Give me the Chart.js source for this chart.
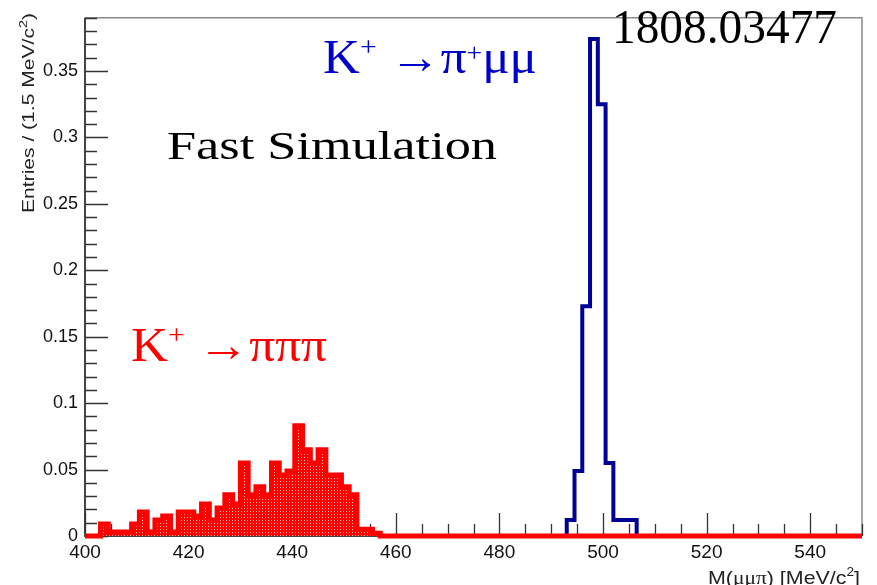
<!DOCTYPE html>
<html>
<head>
<meta charset="utf-8">
<script src="https://cdn.jsdelivr.net/npm/chart.js@4.4.0/dist/chart.umd.min.js"></script>
<style>
  html, body { margin: 0; padding: 0; background: #fff; }
</style>
</head>
<body>
<canvas id="mass" width="877" height="585"></canvas>
<script>
// binning, MeV/c^2
const binStart = 400;
const binWidth = 1.5;
const xMin = 400, xMax = 550;
const yMax = 0.39;

// K+ -> pi pi pi, one value per bin starting at 400
const kpipipi = [0, 0, 0.009, 0.003, 0.003, 0.003, 0.009, 0.018, 0.003, 0.012,
  0.015, 0.003, 0.018, 0.018, 0.015, 0.024, 0.012, 0.021, 0.031, 0.024,
  0.055, 0.031, 0.037, 0.031, 0.055, 0.046, 0.049, 0.083, 0.065, 0.055,
  0.065, 0.046, 0.046, 0.037, 0.031, 0.005, 0.005, 0.002, 0];

// K+ -> pi+ mu mu, bins starting at 491.5
const kpimumuStart = 491.5;
const kpimumu = [0, 0.012, 0.049, 0.173, 0.374, 0.325, 0.055, 0.012, 0.012, 0.012, 0];

const xTicks = [400, 420, 440, 460, 480, 500, 520, 540];
const yTicks = [0, 0.05, 0.1, 0.15, 0.2, 0.25, 0.3, 0.35];

// point at each lower bin edge carries that bin's content (stepped 'before')
function toSteps(start, values, endX) {
    const pts = values.map((v, i) => ({ x: start + i * binWidth, y: v }));
    pts.push({ x: endX !== undefined ? endX : start + values.length * binWidth, y: 0 });
    return pts;
}

const canvas = document.getElementById('mass');
const ctx = canvas.getContext('2d');

// ROOT style dotted fill
function dotPattern() {
    const c = document.createElement('canvas');
    c.width = 3; c.height = 3;
    const g = c.getContext('2d');
    g.fillStyle = '#ff0000';
    g.fillRect(0, 0, 3, 3);
    g.fillStyle = '#ffc4c4';
    g.fillRect(1, 1, 1, 1);
    return ctx.createPattern(c, 'repeat');
}

// draws a row of text pieces, squeezed/stretched to a given width
function drawGroup(g, parts, x, y, width, family, color) {
    let total = 0;
    parts.forEach(p => {
        g.font = p.size + 'px "' + (p.family || family) + '"';
        p.w = g.measureText(p.t).width;
        total += p.w;
    });
    g.save();
    g.translate(x, y);
    g.scale(width / total, 1);
    g.fillStyle = color;
    g.textBaseline = 'alphabetic';
    g.textAlign = 'left';
    let cx = 0;
    parts.forEach(p => {
        g.font = p.size + 'px "' + (p.family || family) + '"';
        g.fillText(p.t, cx, p.dy || 0);
        cx += p.w;
    });
    g.restore();
}

const rootFrame = {
    id: 'rootFrame',
    beforeDatasetsDraw(chart) {
        const { ctx: g, chartArea: a, scales: { x, y } } = chart;
        g.save();
        // frame
        g.strokeStyle = '#8a8a8a';
        g.lineWidth = 1.5;
        g.beginPath();
        g.moveTo(a.left, a.top); g.lineTo(a.right, a.top); g.lineTo(a.right, a.bottom);
        g.stroke();
        g.strokeStyle = '#444';
        g.lineWidth = 2;
        g.beginPath();
        g.moveTo(a.left, a.top); g.lineTo(a.left, a.bottom); g.lineTo(a.right, a.bottom);
        g.stroke();
        // ticks
        g.strokeStyle = '#333';
        g.lineWidth = 1.3;
        g.beginPath();
        for (let i = 0; i * 0.01 <= yMax + 1e-9; i++) {
            const p = Math.round(y.getPixelForValue(i * 0.01)) + 0.5;
            g.moveTo(a.left, p);
            g.lineTo(a.left + (i % 5 === 0 ? 23 : 12), p);
        }
        for (let i = 0; xMin + i * 5 <= xMax; i++) {
            const p = Math.round(x.getPixelForValue(xMin + i * 5)) + 0.5;
            g.moveTo(p, a.bottom);
            g.lineTo(p, a.bottom - (i % 4 === 0 ? 23 : 12));
        }
        g.stroke();
        g.restore();
    },
    afterDraw(chart) {
        const g = chart.ctx;
        // axis titles
        g.save();
        g.translate(34, 13);
        g.rotate(-Math.PI / 2);
        drawGroup(g, [{ t: 'Entries / (1.5 MeV/c', size: 16 }, { t: '2', size: 11, dy: -7 }, { t: ')', size: 16 }],
            -200, 0, 200, 'Liberation Sans', '#222');
        g.restore();
        drawGroup(g, [
            { t: 'M(', size: 19 },
            { t: '\u03bc\u03bc\u03c0', size: 19, family: 'Liberation Serif' },
            { t: ') [MeV/c', size: 19 },
            { t: '2', size: 12, dy: -8 },
            { t: ']', size: 19 }
        ], 708, 584, 152, 'Liberation Sans', '#222');

        // annotations
        drawGroup(g, [{ t: '1808.03477', size: 49 }], 612, 43, 225, 'Liberation Serif', '#000');
        drawGroup(g, [{ t: 'Fast Simulation', size: 40 }], 167, 159, 330, 'Liberation Serif', '#000');
        drawGroup(g, [
            { t: 'K', size: 48 },
            { t: '+', size: 28, dy: -17 },
            { t: ' \u2192\u03c0', size: 48 },
            { t: '+', size: 26, dy: -12 },
            { t: '\u03bc\u03bc', size: 48 }
        ], 323, 73, 214, 'Liberation Serif', '#0000cc');
        drawGroup(g, [
            { t: 'K', size: 48 },
            { t: '+', size: 28, dy: -17 },
            { t: ' \u2192\u03c0\u03c0\u03c0', size: 48 }
        ], 131, 361, 196, 'Liberation Serif', '#ff0000');
    }
};

new Chart(ctx, {
    type: 'line',
    data: {
        datasets: [{
            label: 'K+ \u2192 \u03c0+\u03bc\u03bc',
            data: toSteps(kpimumuStart, kpimumu),
            stepped: 'before',
            borderColor: '#000096',
            borderWidth: 4,
            fill: false,
            pointRadius: 0,
            clip: false,
            order: 2
        }, {
            label: 'K+ \u2192 \u03c0\u03c0\u03c0',
            data: toSteps(binStart, kpipipi, xMax),
            stepped: 'before',
            borderColor: '#ff0000',
            borderWidth: 5,
            backgroundColor: dotPattern(),
            fill: 'origin',
            pointRadius: 0,
            clip: false,
            order: 1
        }]
    },
    options: {
        responsive: false,
        animation: false,
        devicePixelRatio: 1,
        layout: { padding: { left: 0, right: 15, top: 9, bottom: 0 } },
        plugins: { legend: { display: false }, tooltip: { enabled: false } },
        scales: {
            x: {
                type: 'linear',
                min: xMin,
                max: xMax,
                grid: { display: false, drawTicks: false },
                border: { display: false },
                afterBuildTicks: s => { s.ticks = xTicks.map(v => ({ value: v })); },
                afterFit: s => { s.height = 49; },
                ticks: {
                    padding: 5,
                    maxRotation: 0,
                    autoSkip: false,
                    color: '#111',
                    font: { family: 'Liberation Sans', size: 19 },
                    callback: v => String(v)
                }
            },
            y: {
                type: 'linear',
                min: 0,
                max: yMax,
                grid: { display: false, drawTicks: false },
                border: { display: false },
                afterBuildTicks: s => { s.ticks = yTicks.map(v => ({ value: v })); },
                afterFit: s => { s.width = 85; },
                ticks: {
                    padding: 7,
                    color: '#111',
                    font: { family: 'Liberation Sans', size: 18 },
                    callback: v => String(v)
                }
            }
        }
    },
    plugins: [rootFrame]
});
</script>
</body>
</html>
